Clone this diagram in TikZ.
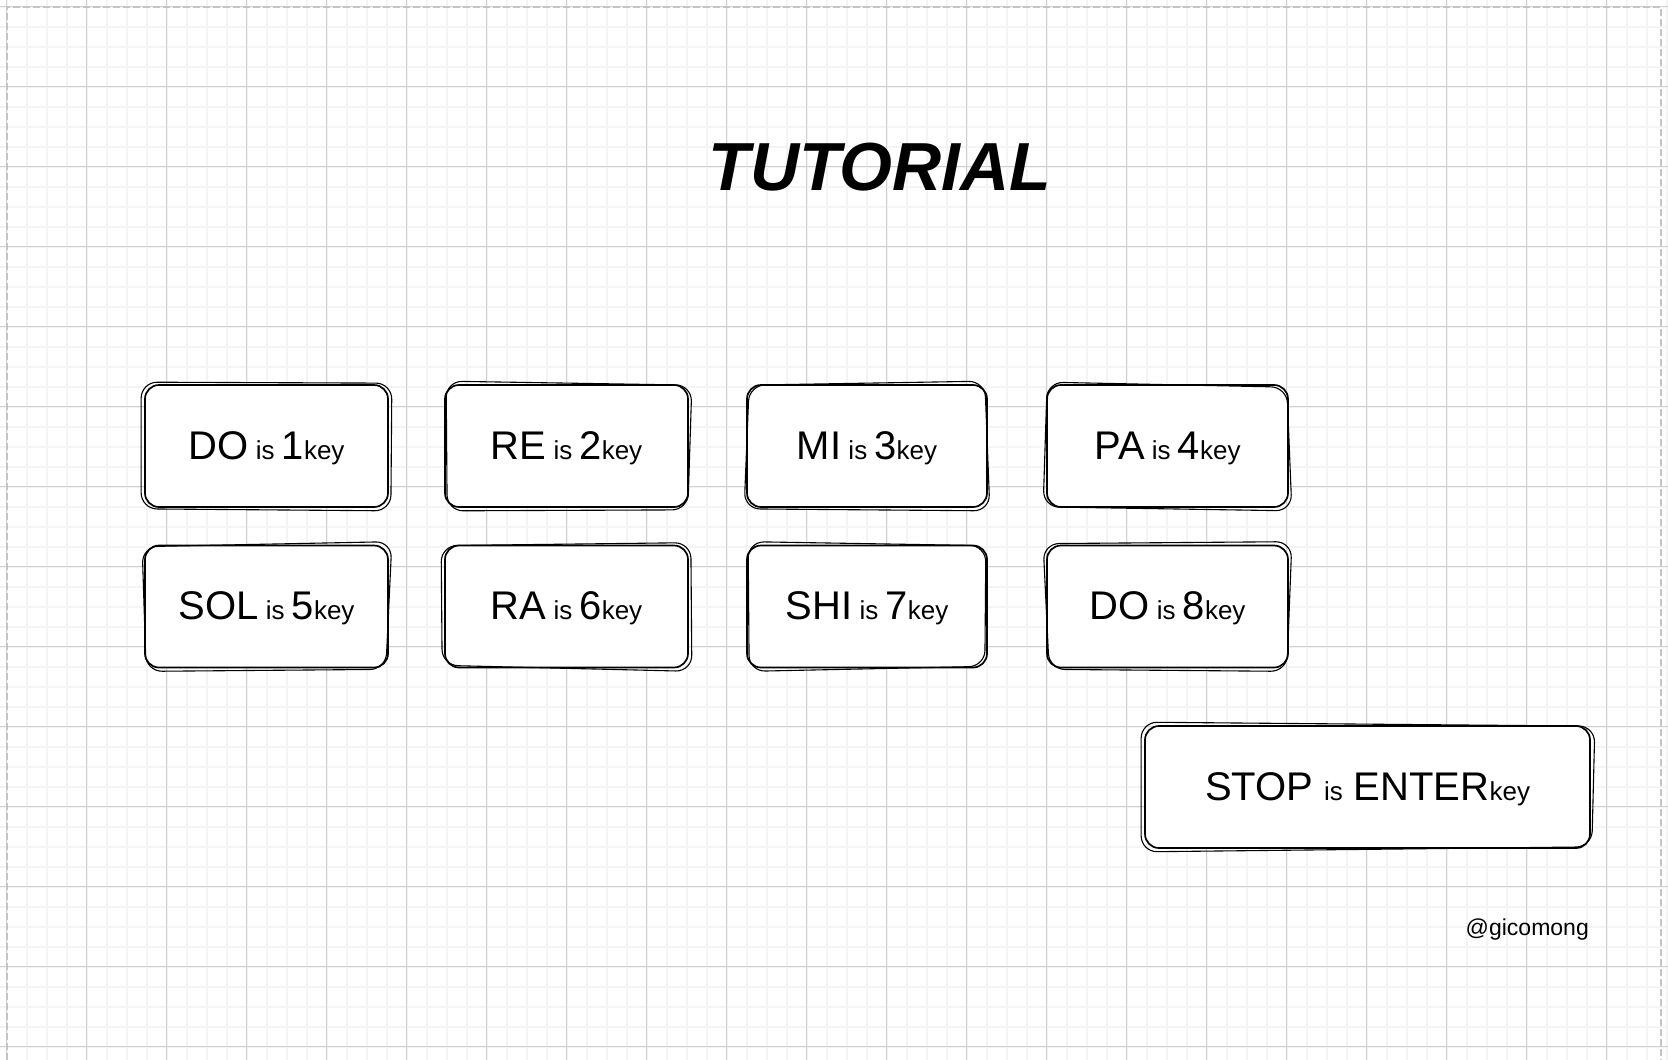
\documentclass[tikz,border=0pt]{standalone}
\usepackage{fontspec}
\setmainfont{Liberation Sans}
\definecolor{minorgrid}{HTML}{F4F4F4}
\definecolor{majorgrid}{HTML}{CFCFCF}
\definecolor{bordergray}{HTML}{C4C4C4}
\newcommand\kbig[1]{{\fontsize{40}{46}\selectfont #1}}
\newcommand\sketchbox[9]{%
  \draw[sketchline] ([shift={(#2,#3)}]#1.north west) -- ([shift={(#4,#5)}]#1.north east)
    -- ([shift={(#6,#7)}]#1.south east) -- ([shift={(#8,#9)}]#1.south west) -- cycle;}
\tikzset{
  keybox/.style={rectangle, rounded corners=14pt, draw=black, fill=white, line width=1.7pt,
    minimum width=243pt, minimum height=122pt, inner sep=0pt,
    text height=32pt, text depth=6pt, font=\fontsize{26}{30}\selectfont},
  sketchline/.style={draw=black, line width=1.1pt, rounded corners=16pt},
  minorline/.style={draw=minorgrid, line width=1.7pt},
  majorline/.style={draw=majorgrid, line width=1pt},
  borderline/.style={draw=bordergray, line width=2pt, dash pattern=on 7pt off 3pt},
}
\begin{document}
\begin{tikzpicture}[x=1pt,y=-1pt]
\useasboundingbox[fill=white] (0,0) rectangle (1668,1060);
% grid
\foreach \k in {0,...,83} {\draw[minorline] (6.7+20*\k,0) -- (6.7+20*\k,1060);}
\foreach \k in {0,...,52} {\draw[minorline] (0,6.7+20*\k) -- (1668,6.7+20*\k);}
\foreach \k in {0,...,20} {\draw[majorline] (6.7+80*\k,0) -- (6.7+80*\k,1060);}
\foreach \k in {0,...,13} {\draw[majorline] (0,6.7+80*\k) -- (1668,6.7+80*\k);}
% border
\draw[borderline] (6.7,1060) -- (6.7,6.7) -- (1660.7,6.7) -- (1660.7,1060);
% title
\node[anchor=base, inner sep=0pt] (title) at (880,190) {\fontsize{68}{80}\selectfont\bfseries\itshape TUTORIAL};
% keys
\node[keybox] (k1) at (266.5,446) {\kbig{DO} is \kbig{1}key};
\node[keybox] (k2) at (566.5,446) {\kbig{RE} is \kbig{2}key};
\node[keybox, minimum width=240pt] (k3) at (867,446) {\kbig{MI} is \kbig{3}key};
\node[keybox, minimum width=241pt] (k4) at (1167.5,446) {\kbig{PA} is \kbig{4}key};
\node[keybox] (k5) at (266.5,606.5) {\kbig{SOL} is \kbig{5}key};
\node[keybox] (k6) at (566.5,606.5) {\kbig{RA} is \kbig{6}key};
\node[keybox, minimum width=240pt] (k7) at (867,606.5) {\kbig{SHI} is \kbig{7}key};
\node[keybox, minimum width=241pt] (k8) at (1167.5,606.5) {\kbig{DO} is \kbig{8}key};
\node[keybox, minimum width=445pt] (stop) at (1367.5,787) {\kbig{STOP}\hspace{11pt}is\hspace{11pt}\kbig{ENTER}key};
\sketchbox{k1}{-3}{-2}{3}{-1}{2}{3}{-3}{1}
\sketchbox{k2}{2}{-3}{3}{1}{-1}{2}{3}{3}
\sketchbox{k3}{3}{1}{-3}{-3}{2}{3}{-2}{1}
\sketchbox{k4}{1}{-2}{-2}{3}{3}{3}{-3}{-1}
\sketchbox{k5}{-2}{2}{3}{-3}{-3}{1}{2}{3}
\sketchbox{k6}{-3}{1}{2}{-2}{3}{3}{-2}{-3}
\sketchbox{k7}{2}{-3}{-2}{1}{-3}{-2}{3}{3}
\sketchbox{k8}{-3}{-1}{3}{-3}{-2}{3}{3}{1}
\sketchbox{stop}{-3}{-3}{4}{1}{1}{-2}{-3}{3}
% author
\node[anchor=base east, inner sep=0pt] (author) at (1589,935) {\fontsize{23}{28}\selectfont @gicomong};
\end{tikzpicture}
\end{document}
